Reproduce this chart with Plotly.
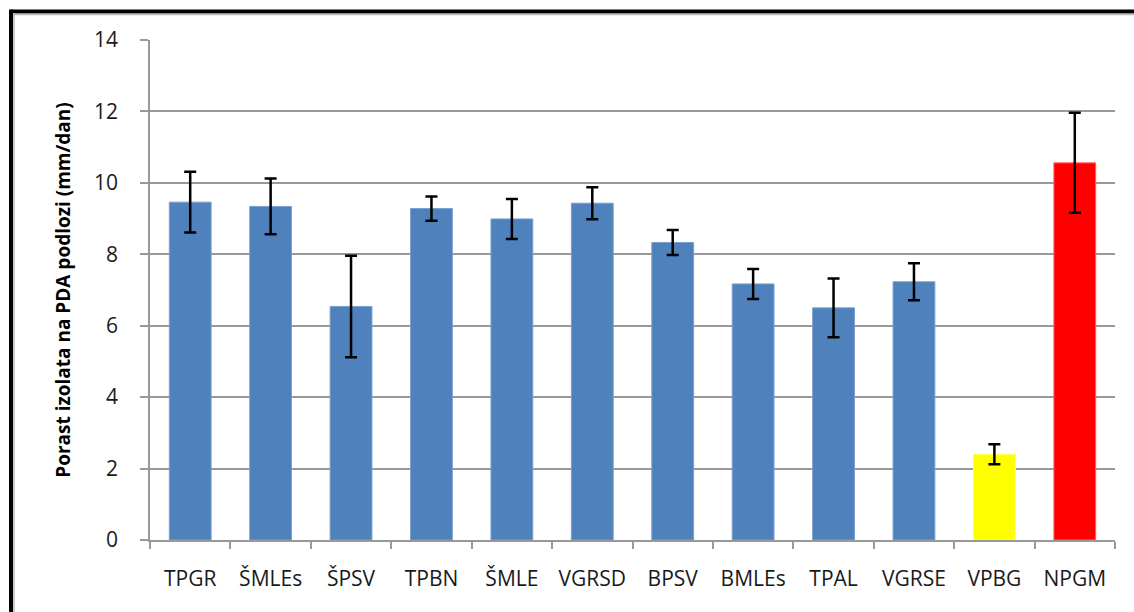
import plotly.graph_objects as go

categories = ["TPGR", "ŠMLEs", "ŠPSV", "TPBN", "ŠMLE", "VGRSD", "BPSV", "BMLEs", "TPAL", "VGRSE", "VPBG", "NPGM"]
values = [9.46, 9.34, 6.54, 9.28, 8.99, 9.43, 8.33, 7.17, 6.50, 7.23, 2.40, 10.56]
errors = [0.85, 0.78, 1.42, 0.34, 0.56, 0.45, 0.35, 0.42, 0.82, 0.52, 0.28, 1.40]
bar_colors = ["#4F81BD"] * 10 + ["#FFFF00", "#FF0000"]
line_colors = ["#7A9FCF"] * 10 + ["#FFFF66", "#FF6666"]
y_ticks = [0, 2, 4, 6, 8, 10, 12, 14]
y_title = "Porast izolata na PDA podlozi (mm/dan)"

W, H = 1134, 612
L, R, T, B = 150, 19, 40, 72

fig = go.Figure()
fig.add_trace(go.Bar(
    x=categories, y=values,
    width=0.52,
    marker=dict(color=bar_colors, line=dict(color=line_colors, width=1)),
    error_y=dict(type="data", array=errors, visible=True, color="#000000", thickness=2.5, width=6),
    hoverinfo="x+y",
))

font_family = "Open Sans, Liberation Sans, Arial"

fig.update_layout(
    width=W, height=H,
    margin=dict(l=L, r=R, t=T, b=B, pad=0),
    paper_bgcolor="white", plot_bgcolor="white",
    showlegend=False,
    font=dict(family=font_family, color="#1a1a1a"),
    xaxis=dict(
        type="category",
        automargin=False,
        tickangle=0,
        showline=True, linecolor="#999999", linewidth=1.5,
        ticks="outside", ticklen=7, tickcolor="#999999", tickwidth=1.5,
        tickson="boundaries",
        showgrid=False,
        tickfont=dict(size=21, family=font_family, color="#1a1a1a"),
        ticklabelstandoff=19,
        range=[-0.5, len(categories) - 0.5],
    ),
    yaxis=dict(
        range=[0, 14], tickvals=y_ticks,
        automargin=False,
        showline=True, linecolor="#999999", linewidth=1.5,
        ticks="outside", ticklen=8, tickcolor="#999999", tickwidth=1.5,
        showgrid=True, gridcolor="#999999", gridwidth=1.5,
        zeroline=False,
        tickfont=dict(size=21, family=font_family, color="#1a1a1a"),
        ticklabelstandoff=18,
        title=dict(text="<b>" + y_title + "</b>", font=dict(size=19, family=font_family, color="#000000"), standoff=18),
    ),
)

# Frame (top and left border with grey inner shadow), in paper coordinates
def px_x(px):
    return (px - L) / (W - L - R)

def px_y(py):
    return (H - B - py) / (H - T - B)

fig.add_shape(type="line", xref="paper", yref="paper",
              x0=px_x(11), x1=px_x(W + 5), y0=px_y(11.5), y1=px_y(11.5),
              line=dict(color="black", width=4))
fig.add_shape(type="line", xref="paper", yref="paper",
              x0=px_x(11), x1=px_x(11), y0=px_y(9.5), y1=px_y(H + 5),
              line=dict(color="black", width=4))
fig.add_shape(type="line", xref="paper", yref="paper",
              x0=px_x(13), x1=px_x(W + 5), y0=px_y(14.5), y1=px_y(14.5),
              line=dict(color="#BBBBBB", width=1.5))
fig.add_shape(type="line", xref="paper", yref="paper",
              x0=px_x(14), x1=px_x(14), y0=px_y(13), y1=px_y(H + 5),
              line=dict(color="#BBBBBB", width=1.5))

fig.write_html(
    "out.html",
    config={"displayModeBar": False},
    post_script="document.body.style.margin='0';document.body.style.padding='0';document.body.style.overflow='hidden';",
)
